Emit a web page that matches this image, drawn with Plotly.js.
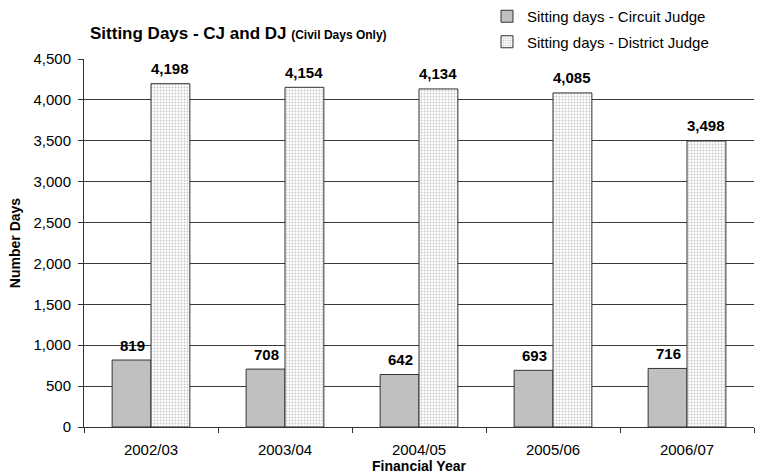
<!DOCTYPE html>
<html>
<head>
<meta charset="utf-8">
<script src="https://cdn.plot.ly/plotly-3.0.1.min.js"></script>
<style>
  html, body { margin: 0; padding: 0; background: #fff; }
  #chart { width: 759px; height: 474px; }
</style>
</head>
<body>
<div id="chart"></div>
<script>
// Financial years and civil sitting days per judge type
const years = ['2002/03', '2003/04', '2004/05', '2005/06', '2006/07'];
const circuitDays = [819, 708, 642, 693, 716];
const districtDays = [4198, 4154, 4134, 4085, 3498];
const yTicks = [0, 500, 1000, 1500, 2000, 2500, 3000, 3500, 4000, 4500];

const FONT = 'Arial, Liberation Sans, sans-serif';
const fmt = v => v.toLocaleString('en-US');

const circuit = {
  type: 'bar',
  name: 'Sitting days - Circuit Judge',
  x: years,
  y: circuitDays,
  marker: { color: '#c0c0c0', line: { color: '#333333', width: 1 } },
  legendgroup: 'cj',
  hoverinfo: 'skip'
};

const district = {
  type: 'bar',
  name: 'Sitting days - District Judge',
  x: years,
  y: districtDays,
  marker: {
    color: '#ffffff',
    line: { color: '#333333', width: 1 },
    pattern: { shape: '.', fgcolor: '#c6c6c6', bgcolor: '#ffffff', size: 3, solidity: 0.3 }
  },
  legendgroup: 'dj',
  hoverinfo: 'skip'
};

// value labels above each bar
const labels = [];
years.forEach((yr, i) => {
  labels.push({ x: yr, y: circuitDays[i], text: '<b>' + fmt(circuitDays[i]) + '</b>', xshift: -19 });
  labels.push({ x: yr, y: districtDays[i], text: '<b>' + fmt(districtDays[i]) + '</b>', xshift: 19 });
});
labels.forEach(a => {
  a.xref = 'x'; a.yref = 'y'; a.showarrow = false;
  a.yanchor = 'middle'; a.yshift = 15;
  a.font = { family: FONT, size: 15, color: '#000' };
});

const layout = {
  width: 759,
  height: 474,
  margin: { l: 84, r: 5, t: 59, b: 47, autoexpand: false },
  paper_bgcolor: '#ffffff',
  plot_bgcolor: '#ffffff',
  font: { family: FONT, size: 15, color: '#000' },
  barmode: 'group',
  bargap: 0.42,
  bargroupgap: 0,
  title: {
    text: '<b>Sitting Days - CJ and DJ <span style="font-size:12px">(Civil Days Only)</span></b>',
    font: { family: FONT, size: 17, color: '#000' },
    xref: 'container', x: 90 / 759, xanchor: 'left',
    yref: 'container', y: 1 - 33 / 474, yanchor: 'middle'
  },
  xaxis: {
    type: 'category',
    showline: true, linecolor: '#333', linewidth: 1,
    ticks: 'outside', tickson: 'boundaries', ticklen: 5, tickcolor: '#333',
    ticklabelstandoff: 9,
    tickfont: { family: FONT, size: 15, color: '#000' },
    showgrid: false,
    title: { text: '<b>Financial Year</b>', font: { family: FONT, size: 14, color: '#000' }, standoff: 6 },
    automargin: false,
    fixedrange: true
  },
  yaxis: {
    range: [0, 4500],
    tickvals: yTicks,
    ticktext: yTicks.map(fmt),
    showline: true, linecolor: '#333', linewidth: 1,
    ticks: 'outside', ticklen: 5, tickcolor: '#333',
    ticklabelstandoff: 4,
    tickfont: { family: FONT, size: 15, color: '#000' },
    showgrid: true, gridcolor: '#3a3a3a', gridwidth: 1,
    zeroline: false,
    title: { text: '<b>Number Days</b>', font: { family: FONT, size: 14, color: '#000' }, standoff: 9 },
    automargin: false,
    fixedrange: true
  },
  legend: {
    xref: 'container', x: 487 / 759, xanchor: 'left',
    yref: 'container', y: 1, yanchor: 'top',
    traceorder: 'grouped', tracegroupgap: 3,
    font: { family: FONT, size: 15, color: '#000' },
    bgcolor: 'rgba(0,0,0,0)', itemwidth: 30
  },
  annotations: labels
};

Plotly.newPlot('chart', [circuit, district], layout, { displayModeBar: false, staticPlot: true });
</script>
</body>
</html>
